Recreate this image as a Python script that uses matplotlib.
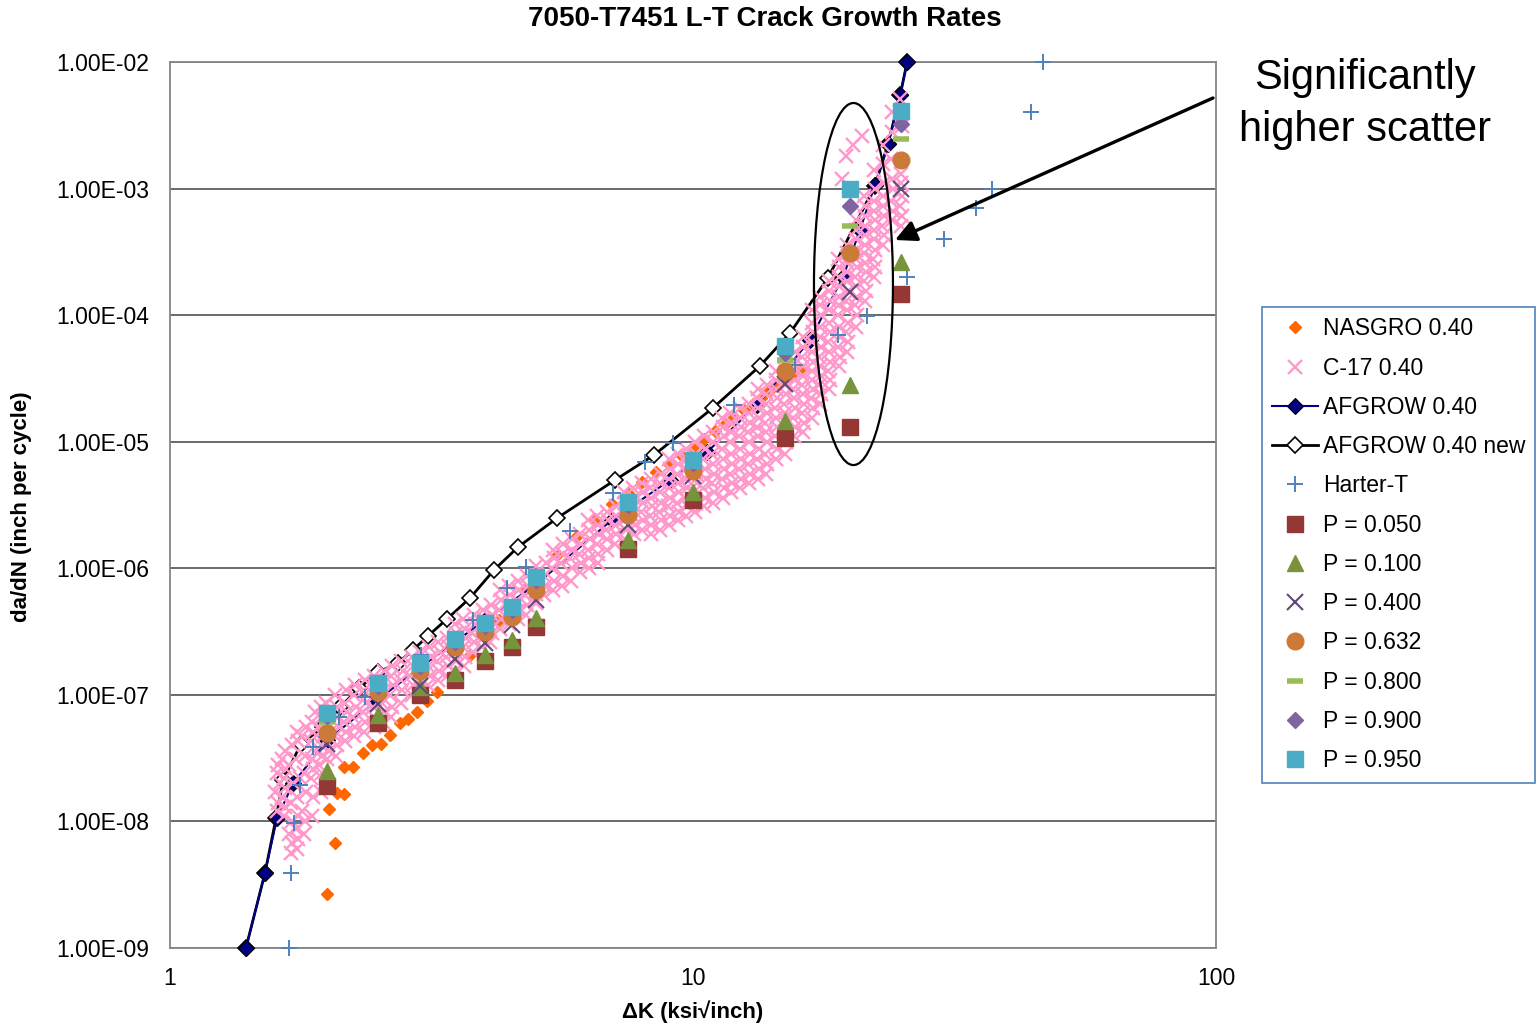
import numpy as np
import matplotlib
matplotlib.use("Agg")
import matplotlib.pyplot as plt
from matplotlib.patches import Ellipse
from matplotlib.ticker import FuncFormatter, FixedLocator, NullLocator

plt.rcParams['font.family'] = ['Liberation Sans', 'DejaVu Sans']

# NASGRO 0.40 (orange diamonds)
nas_dk = [2.0, 2.07, 2.01, 2.09, 2.15, 2.15, 2.24, 2.34, 2.43, 2.53, 2.63, 2.75, 2.85, 2.97,
          3.1, 3.24, 3.5, 3.75, 4.0, 4.25, 4.5, 4.75, 5.0, 5.5, 6.0, 6.5, 7.0, 7.5, 8.0, 8.5,
          9.0, 9.5, 10.0, 10.5, 11.0, 11.5, 12.0, 12.5, 13.0, 13.5, 14.0, 14.5, 15.0, 15.5, 16.0]
nas_dadn = [2.67e-9, 6.75e-9, 1.25e-8, 1.68e-8, 1.65e-8, 2.69e-8, 2.69e-8, 3.47e-8, 4.02e-8,
            4.09e-8, 4.82e-8, 6.0e-8, 6.45e-8, 7.32e-8, 8.94e-8, 1.05e-7, 1.49e-7, 2.06e-7,
            2.86e-7, 3.87e-7, 5.13e-7, 6.73e-7, 8.85e-7, 1.28e-6, 1.80e-6, 2.43e-6, 3.22e-6,
            3.96e-6, 4.80e-6, 5.74e-6, 6.67e-6, 7.81e-6, 9.08e-6, 1.05e-5, 1.22e-5, 1.38e-5,
            1.57e-5, 1.77e-5, 1.99e-5, 2.23e-5, 2.52e-5, 2.78e-5, 3.07e-5, 3.40e-5, 3.75e-5]

# C-17 0.40 test data (pink crosses), read column by column from the cloud
c17_dk = [
    1.60, 1.61, 1.59, 1.62, 1.60, 1.61,
    1.65, 1.66, 1.64, 1.66, 1.65, 1.67, 1.64, 1.66,
    1.70, 1.71, 1.69, 1.71, 1.70, 1.72, 1.69, 1.71,
    1.75, 1.76, 1.74, 1.76, 1.75, 1.77, 1.74, 1.76, 1.75,
    1.80, 1.81, 1.79, 1.82, 1.80, 1.81, 1.79, 1.82,
    1.87, 1.88, 1.86, 1.88, 1.87, 1.89, 1.86, 1.88, 1.87, 1.89,
    1.94, 1.95, 1.93, 1.95, 1.94, 1.96, 1.93, 1.95, 1.94,
    2.00, 2.01, 1.99, 2.02, 2.00, 2.01, 1.99,
    2.08, 2.09, 2.07, 2.10, 2.08, 2.09, 2.07,
    2.16, 2.17, 2.15, 2.18, 2.16, 2.17,
    2.25, 2.26, 2.24, 2.27, 2.25, 2.26,
    2.35, 2.36, 2.34, 2.37, 2.35, 2.36,
    2.45, 2.46, 2.44, 2.47, 2.45, 2.46,
    2.55, 2.56, 2.54, 2.57, 2.55, 2.56,
    2.65, 2.66, 2.64, 2.67, 2.65, 2.66,
    2.77, 2.78, 2.76, 2.79, 2.77,
    2.90, 2.91, 2.88, 2.92, 2.90,
    3.00, 3.02, 2.99, 3.03, 3.01,
    3.12, 3.14, 3.11, 3.15, 3.13,
    3.25, 3.27, 3.24, 3.28, 3.26,
    3.38, 3.40, 3.37, 3.41, 3.39,
    3.51, 3.53, 3.50, 3.54, 3.52, 3.50,
    3.65, 3.67, 3.64, 3.68, 3.66, 3.64,
    3.80, 3.82, 3.78, 3.83, 3.81,
    3.95, 3.97, 3.93, 3.98, 3.96,
    4.10, 4.12, 4.08, 4.13, 4.11,
    4.27, 4.29, 4.25, 4.30, 4.28,
    4.44, 4.46, 4.42, 4.47, 4.45,
    4.62, 4.64, 4.60, 4.65, 4.63,
    4.80, 4.82, 4.78, 4.83, 4.81,
    5.00, 5.02, 4.98, 5.03, 5.01,
    5.20, 5.22, 5.18, 5.23,
    5.40, 5.42, 5.38, 5.43, 5.41,
    5.62, 5.64, 5.60, 5.65, 5.63,
    5.85, 5.87, 5.83, 5.88, 5.86,
    6.08, 6.10, 6.06, 6.11, 6.09,
    6.32, 6.34, 6.30, 6.35, 6.33, 6.31,
    6.57, 6.59, 6.55, 6.60, 6.58, 6.56,
    6.84, 6.86, 6.82, 6.87, 6.85,
    7.10, 7.13, 7.08, 7.14, 7.11,
    7.40, 7.43, 7.38, 7.44, 7.41, 7.39,
    7.70, 7.73, 7.68, 7.74, 7.71, 7.69,
    8.00, 8.03, 7.97, 8.04, 8.01, 7.98,
    8.30, 8.33, 8.27, 8.34, 8.31, 8.28, 8.32,
    8.65, 8.68, 8.62, 8.69, 8.66, 8.63, 8.67,
    9.00, 9.04, 8.97, 9.05, 9.01, 8.98, 9.03, 9.00,
    9.35, 9.39, 9.32, 9.40, 9.36, 9.33, 9.38, 9.35,
    9.70, 9.74, 9.67, 9.75, 9.71, 9.68, 9.73, 9.70,
    10.1, 10.15, 10.05, 10.17, 10.12, 10.06, 10.14, 10.1,
    10.5, 10.55, 10.45, 10.57, 10.52, 10.46, 10.54, 10.5,
    10.9, 10.95, 10.85, 10.97, 10.92, 10.86, 10.94, 10.9,
    11.4, 11.45, 11.35, 11.47, 11.42, 11.36, 11.44, 11.4, 11.38,
    11.8, 11.85, 11.75, 11.87, 11.82, 11.76, 11.84, 11.8, 11.78,
    12.3, 12.36, 12.25, 12.38, 12.32, 12.26, 12.35, 12.3, 12.28,
    12.8, 12.86, 12.75, 12.88, 12.82, 12.76, 12.85, 12.8, 12.78,
    13.3, 13.36, 13.25, 13.38, 13.32, 13.26, 13.35, 13.3, 13.28, 13.34,
    13.8, 13.86, 13.75, 13.88, 13.82, 13.76, 13.85, 13.8, 13.78, 13.84,
    14.4, 14.46, 14.35, 14.48, 14.42, 14.36, 14.45, 14.4, 14.38, 14.44,
    15.0, 15.06, 14.95, 15.08, 15.02, 14.96, 15.05, 15.0, 14.98, 15.04, 15.01,
    15.6, 15.66, 15.55, 15.68, 15.62, 15.56, 15.65, 15.6, 15.58, 15.64,
    16.2, 16.27, 16.14, 16.29, 16.22, 16.15, 16.25, 16.2, 16.18, 16.24, 16.21,
    16.9, 16.97, 16.84, 16.99, 16.92, 16.85, 16.95, 16.9, 16.88, 16.94, 16.91, 16.87,
    17.5, 17.57, 17.44, 17.59, 17.52, 17.45, 17.55, 17.5, 17.48, 17.54, 17.51, 17.47,
    18.2, 18.27, 18.14, 18.29, 18.22, 18.15, 18.25, 18.2, 18.18, 18.24, 18.21, 18.17,
    19.0, 19.08, 18.93, 19.1, 19.02, 18.95, 19.05, 19.0, 18.98, 19.04, 19.01, 18.97,
    19.7, 19.78, 19.63, 19.8, 19.72, 19.65, 19.75, 19.7, 19.68, 19.74, 19.71, 19.67,
    20.5, 20.58, 20.43, 20.6, 20.52, 20.45, 20.55, 20.5, 20.48, 20.54, 20.51, 20.47,
    21.3, 21.38, 21.23, 21.4, 21.32, 21.25, 21.35, 21.3, 21.28, 21.34, 21.31, 21.27,
    22.2, 22.28, 22.13, 22.3, 22.22, 22.15, 22.25, 22.2, 22.18, 22.24, 22.21,
    23.1, 23.18, 23.03, 23.2, 23.12, 23.05, 23.15, 23.1, 23.08,
    24.0, 24.08, 23.93, 24.1, 24.02, 23.95, 24.05, 24.0,
    25.0, 25.08, 24.93, 25.1, 25.02, 24.95, 25.05, 24.9,
    19.6, 20.2, 21.0, 19.3,
]
c17_dadn = [
    1.2e-8, 1.4e-8, 1.7e-8, 2.0e-8, 2.4e-8, 2.8e-8,
    1.1e-8, 1.3e-8, 1.55e-8, 1.85e-8, 2.2e-8, 2.6e-8, 3.1e-8, 3.6e-8,
    5.6e-9, 6.7e-9, 8.0e-9, 1.0e-8, 1.4e-8, 2.0e-8, 2.8e-8, 4.0e-8,
    6.1e-9, 7.3e-9, 8.7e-9, 1.1e-8, 1.55e-8, 2.2e-8, 3.1e-8, 4.3e-8, 5.1e-8,
    8.0e-9, 1.0e-8, 1.2e-8, 1.7e-8, 2.4e-8, 3.3e-8, 4.7e-8, 5.6e-8,
    1.1e-8, 1.55e-8, 2.2e-8, 2.6e-8, 3.1e-8, 3.6e-8, 4.3e-8, 5.1e-8, 6.1e-8, 7.3e-8,
    1.7e-8, 2.4e-8, 2.8e-8, 3.3e-8, 4.0e-8, 4.7e-8, 5.6e-8, 6.7e-8, 8.0e-8,
    3.1e-8, 3.6e-8, 4.3e-8, 5.1e-8, 6.1e-8, 7.3e-8, 8.7e-8,
    3.3e-8, 4.0e-8, 4.7e-8, 5.6e-8, 6.7e-8, 8.0e-8, 1.0e-7,
    4.3e-8, 5.1e-8, 6.1e-8, 7.3e-8, 8.7e-8, 1.1e-7,
    4.7e-8, 5.6e-8, 6.7e-8, 8.0e-8, 1.0e-7, 1.2e-7,
    5.1e-8, 6.1e-8, 7.3e-8, 8.7e-8, 1.1e-7, 1.3e-7,
    5.6e-8, 6.7e-8, 8.0e-8, 1.0e-7, 1.2e-7, 1.4e-7,
    6.1e-8, 7.3e-8, 8.7e-8, 1.1e-7, 1.3e-7, 1.55e-7,
    6.7e-8, 8.0e-8, 1.0e-7, 1.2e-7, 1.4e-7, 1.7e-7,
    8.7e-8, 1.1e-7, 1.3e-7, 1.55e-7, 1.85e-7,
    1.0e-7, 1.2e-7, 1.4e-7, 1.7e-7, 2.0e-7,
    1.1e-7, 1.3e-7, 1.55e-7, 1.85e-7, 2.2e-7,
    1.2e-7, 1.4e-7, 1.7e-7, 2.0e-7, 2.4e-7,
    1.3e-7, 1.55e-7, 1.85e-7, 2.2e-7, 2.6e-7,
    1.4e-7, 1.7e-7, 2.0e-7, 2.4e-7, 2.8e-7,
    1.55e-7, 1.85e-7, 2.2e-7, 2.6e-7, 3.1e-7, 3.6e-7,
    1.7e-7, 2.0e-7, 2.4e-7, 2.8e-7, 3.3e-7, 4.0e-7,
    2.2e-7, 2.6e-7, 3.1e-7, 3.6e-7, 4.3e-7,
    2.4e-7, 2.8e-7, 3.3e-7, 4.0e-7, 4.7e-7,
    2.6e-7, 3.1e-7, 3.6e-7, 4.3e-7, 5.1e-7,
    3.3e-7, 4.0e-7, 4.7e-7, 5.6e-7, 6.7e-7,
    3.6e-7, 4.3e-7, 5.1e-7, 6.1e-7, 7.3e-7,
    4.0e-7, 4.7e-7, 5.6e-7, 6.7e-7, 8.0e-7,
    4.3e-7, 5.1e-7, 6.1e-7, 7.3e-7, 8.7e-7,
    5.3e-7, 6.3e-7, 7.5e-7, 8.9e-7, 1.05e-6,
    6.1e-7, 7.3e-7, 8.7e-7, 1.1e-6,
    6.7e-7, 8.0e-7, 1.0e-6, 1.2e-6, 1.4e-6,
    7.3e-7, 8.7e-7, 1.1e-6, 1.3e-6, 1.55e-6,
    8.0e-7, 1.0e-6, 1.2e-6, 1.4e-6, 1.7e-6,
    9.3e-7, 1.1e-6, 1.3e-6, 1.55e-6, 1.85e-6,
    1.0e-6, 1.2e-6, 1.4e-6, 1.7e-6, 2.0e-6, 2.4e-6,
    1.1e-6, 1.3e-6, 1.55e-6, 1.85e-6, 2.2e-6, 2.6e-6,
    1.4e-6, 1.7e-6, 2.0e-6, 2.4e-6, 2.8e-6,
    1.55e-6, 1.85e-6, 2.2e-6, 2.6e-6, 3.1e-6,
    1.7e-6, 2.0e-6, 2.4e-6, 2.8e-6, 3.3e-6, 4.0e-6,
    1.85e-6, 2.2e-6, 2.6e-6, 3.1e-6, 3.6e-6, 4.3e-6,
    2.0e-6, 2.4e-6, 2.8e-6, 3.3e-6, 4.0e-6, 4.7e-6,
    1.85e-6, 2.2e-6, 2.6e-6, 3.1e-6, 3.6e-6, 4.3e-6, 5.1e-6,
    2.0e-6, 2.4e-6, 2.8e-6, 3.3e-6, 4.0e-6, 4.7e-6, 5.6e-6,
    2.2e-6, 2.6e-6, 3.1e-6, 3.6e-6, 4.3e-6, 5.1e-6, 6.1e-6, 7.3e-6,
    2.4e-6, 2.8e-6, 3.3e-6, 4.0e-6, 4.7e-6, 5.6e-6, 6.7e-6, 8.0e-6,
    2.6e-6, 3.1e-6, 3.6e-6, 4.3e-6, 5.1e-6, 6.1e-6, 7.3e-6, 8.7e-6,
    2.8e-6, 3.3e-6, 4.0e-6, 4.7e-6, 5.6e-6, 6.7e-6, 8.0e-6, 1.0e-5,
    3.1e-6, 3.6e-6, 4.3e-6, 5.1e-6, 6.1e-6, 7.3e-6, 8.7e-6, 1.1e-5,
    3.3e-6, 4.0e-6, 4.7e-6, 5.6e-6, 6.7e-6, 8.0e-6, 1.0e-5, 1.2e-5,
    3.6e-6, 4.3e-6, 5.1e-6, 6.1e-6, 7.3e-6, 8.7e-6, 1.1e-5, 1.3e-5, 1.55e-5,
    4.0e-6, 4.7e-6, 5.6e-6, 6.7e-6, 8.0e-6, 1.0e-5, 1.2e-5, 1.4e-5, 1.7e-5,
    4.3e-6, 5.1e-6, 6.1e-6, 7.3e-6, 8.7e-6, 1.1e-5, 1.3e-5, 1.55e-5, 1.85e-5,
    4.7e-6, 5.6e-6, 6.7e-6, 8.0e-6, 1.0e-5, 1.2e-5, 1.4e-5, 1.7e-5, 2.0e-5,
    5.1e-6, 6.1e-6, 7.3e-6, 8.7e-6, 1.1e-5, 1.3e-5, 1.55e-5, 1.85e-5, 2.2e-5, 2.6e-5,
    5.6e-6, 6.7e-6, 8.0e-6, 1.0e-5, 1.2e-5, 1.4e-5, 1.7e-5, 2.0e-5, 2.4e-5, 2.8e-5,
    7.3e-6, 8.7e-6, 1.1e-5, 1.3e-5, 1.55e-5, 1.85e-5, 2.2e-5, 2.6e-5, 3.1e-5, 3.6e-5,
    8.0e-6, 1.0e-5, 1.2e-5, 1.4e-5, 1.7e-5, 2.0e-5, 2.4e-5, 2.8e-5, 3.3e-5, 4.0e-5, 4.7e-5,
    1.1e-5, 1.3e-5, 1.55e-5, 1.85e-5, 2.2e-5, 2.6e-5, 3.1e-5, 3.6e-5, 4.3e-5, 5.1e-5,
    1.2e-5, 1.4e-5, 1.7e-5, 2.0e-5, 2.4e-5, 2.8e-5, 3.3e-5, 4.0e-5, 4.7e-5, 5.6e-5, 6.7e-5,
    1.55e-5, 1.85e-5, 2.2e-5, 2.6e-5, 3.1e-5, 3.6e-5, 4.3e-5, 5.1e-5, 6.1e-5, 7.3e-5, 8.7e-5, 1.1e-4,
    2.0e-5, 2.4e-5, 2.8e-5, 3.3e-5, 4.0e-5, 4.7e-5, 5.6e-5, 6.7e-5, 8.0e-5, 1.0e-4, 1.2e-4, 1.4e-4,
    2.6e-5, 3.1e-5, 3.6e-5, 4.3e-5, 5.1e-5, 6.1e-5, 7.3e-5, 8.7e-5, 1.1e-4, 1.3e-4, 1.55e-4, 1.85e-4,
    4.0e-5, 4.7e-5, 5.6e-5, 6.7e-5, 8.0e-5, 1.0e-4, 1.2e-4, 1.4e-4, 1.7e-4, 2.0e-4, 2.4e-4, 2.8e-4,
    5.1e-5, 6.1e-5, 7.3e-5, 8.7e-5, 1.1e-4, 1.3e-4, 1.55e-4, 1.85e-4, 2.2e-4, 2.6e-4, 3.1e-4, 3.6e-4,
    8.0e-5, 1.0e-4, 1.2e-4, 1.4e-4, 1.7e-4, 2.0e-4, 2.4e-4, 2.8e-4, 3.3e-4, 4.0e-4, 4.7e-4, 5.6e-4,
    1.3e-4, 1.55e-4, 1.85e-4, 2.2e-4, 2.6e-4, 3.1e-4, 3.6e-4, 4.3e-4, 5.1e-4, 6.1e-4, 7.3e-4, 8.7e-4,
    2.0e-4, 2.4e-4, 2.8e-4, 3.3e-4, 4.0e-4, 4.7e-4, 5.6e-4, 6.7e-4, 8.0e-4, 1.0e-3, 1.4e-3,
    3.6e-4, 4.3e-4, 5.1e-4, 6.1e-4, 7.3e-4, 8.7e-4, 1.1e-3, 1.55e-3, 2.2e-3,
    5.6e-4, 6.7e-4, 8.0e-4, 1.0e-3, 1.2e-3, 1.7e-3, 2.8e-3, 4.0e-3,
    5.1e-4, 6.1e-4, 7.3e-4, 8.7e-4, 1.1e-3, 1.3e-3, 3.1e-3, 5.1e-3,
    1.8e-3, 2.2e-3, 2.6e-3, 1.2e-3,
]

# AFGROW 0.40 (navy line)
afg_dk = [1.397, 1.519, 1.602, 1.719, 2.0, 2.49, 3.0, 4.0, 5.0, 7.0, 9.04, 10.64, 13.26,
          16.74, 19.36, 20.86, 22.28, 23.6, 24.9, 25.67]
afg_dadn = [1.0e-9, 3.91e-9, 1.06e-8, 2.0e-8, 4.4e-8, 9.1e-8, 1.63e-7, 3.9e-7, 7.4e-7, 2.41e-6,
            4.98e-6, 8.3e-6, 1.95e-5, 6.37e-5, 2.0e-4, 4.71e-4, 1.07e-3, 2.25e-3, 5.5e-3, 1.0e-2]

# AFGROW 0.40 new (black line, open diamonds)
new_dk = [1.397, 1.519, 1.595, 1.645, 1.780, 1.961, 2.115, 2.298, 2.499, 2.729, 2.915, 3.113,
          3.385, 3.746, 4.164, 4.628, 5.495, 7.094, 8.423, 10.92, 13.43, 15.33, 18.12, 22.28,
          23.6, 24.9, 25.67]
new_dadn = [1.0e-9, 3.91e-9, 1.06e-8, 2.12e-8, 4.09e-8, 5.57e-8, 8.0e-8, 1.13e-7, 1.51e-7,
            1.79e-7, 2.26e-7, 2.92e-7, 3.97e-7, 5.82e-7, 9.69e-7, 1.47e-6, 2.49e-6, 4.98e-6,
            7.85e-6, 1.85e-5, 3.97e-5, 7.23e-5, 1.97e-4, 1.05e-3, 2.25e-3, 5.48e-3, 1.0e-2]

# Harter-T
har_dk = [1.69, 1.70, 1.73, 1.77, 1.88, 2.10, 2.36, 3.02, 3.80, 4.41, 4.79, 5.82, 7.03, 8.09,
          9.16, 12.0, 15.7, 18.9, 21.5, 25.6, 30.2, 34.8, 37.3, 44.3, 46.7]
har_dadn = [1.0e-9, 3.9e-9, 9.7e-9, 1.94e-8, 3.87e-8, 6.68e-8, 9.6e-8, 2.07e-7, 3.9e-7, 6.98e-7,
            1.02e-6, 1.97e-6, 3.93e-6, 6.92e-6, 9.77e-6, 1.95e-5, 4.04e-5, 6.97e-5, 9.85e-5,
            2.0e-4, 4.0e-4, 7.0e-4, 1.0e-3, 4.0e-3, 1.0e-2]

# probability curves
p_dk = [2, 2.5, 3, 3.5, 4, 4.5, 5, 7.5, 10, 15, 20, 25]
p050 = [1.90e-8, 6.0e-8, 1.0e-7, 1.31e-7, 1.85e-7, 2.39e-7, 3.44e-7, 1.42e-6, 3.46e-6, 1.07e-5, 1.31e-5, 1.47e-4]
p100 = [2.5e-8, 6.9e-8, 1.15e-7, 1.49e-7, 2.06e-7, 2.71e-7, 4.05e-7, 1.67e-6, 4.0e-6, 1.46e-5, 2.8e-5, 2.63e-4]
p400 = [4.1e-8, 8.5e-8, 1.17e-7, 1.92e-7, 2.57e-7, 3.56e-7, 5.61e-7, 2.2e-6, 5.36e-6, 2.86e-5, 1.52e-4, 9.9e-4]
p632 = [5.0e-8, 1.05e-7, 1.54e-7, 2.39e-7, 3.14e-7, 4.12e-7, 6.74e-7, 2.64e-6, 5.87e-6, 3.62e-5, 3.1e-4, 1.68e-3]
p800 = [6.1e-8, 1.11e-7, 1.61e-7, 2.48e-7, 3.32e-7, 4.43e-7, 7.65e-7, 3.0e-6, 6.43e-6, 4.42e-5, 5.06e-4, 2.46e-3]
p900 = [6.81e-8, 1.17e-7, 1.70e-7, 2.61e-7, 3.50e-7, 4.68e-7, 8.08e-7, 3.16e-6, 6.79e-6, 5.02e-5, 7.3e-4, 3.24e-3]
p950 = [7.19e-8, 1.24e-7, 1.79e-7, 2.76e-7, 3.70e-7, 4.94e-7, 8.53e-7, 3.34e-6, 7.17e-6, 5.71e-5, 9.92e-4, 4.10e-3]

fig = plt.figure(figsize=(15.37, 10.24), dpi=100)
ax = fig.add_axes([170/1537, 1-948/1024, (1216-170)/1537, (948-62)/1024])
ax.set_xscale('log')
ax.set_yscale('log')
ax.set_xlim(1, 100)
ax.set_ylim(1e-9, 1e-2)

ax.plot(nas_dk, nas_dadn, ls='none', marker='D', ms=6, color='#FF6600', zorder=2, label='NASGRO 0.40')
ax.plot(c17_dk, c17_dadn, ls='none', marker='x', ms=10.5, mew=1.7, color='#FF99CC', zorder=3.5, label='C-17 0.40')
ax.plot(afg_dk, afg_dadn, color='#000080', lw=1.5, marker='D', ms=8, mfc='#000080', mec='black',
        mew=0.8, zorder=3.3, clip_on=False, label='AFGROW 0.40')
ax.plot(new_dk, new_dadn, color='black', lw=2, marker='D', ms=8, mfc='white', mec='black',
        mew=1.2, zorder=3.2, clip_on=False, label='AFGROW 0.40 new')
ax.plot(har_dk, har_dadn, ls='none', marker='+', ms=11.5, mew=1.4, color='#4F81BD', zorder=4,
        clip_on=False, label='Harter-T')

ax.plot(p_dk, p050, ls='none', marker='s', ms=12, color='#953735', zorder=5, label='P = 0.050')
ax.plot(p_dk, p100, ls='none', marker='^', ms=12, color='#77933C', zorder=5, label='P = 0.100')
ax.plot(p_dk, p400, ls='none', marker='x', ms=12, mew=1.5, color='#604A7B', zorder=5, label='P = 0.400')
ax.plot(p_dk, p632, ls='none', marker='o', ms=12, color='#CC7A3A', zorder=5, label='P = 0.632')
ax.plot(p_dk, p800, ls='none', marker='_', ms=12, mew=4, color='#9BBB59', zorder=5, label='P = 0.800')
ax.plot(p_dk, p900, ls='none', marker='D', ms=8.5, color='#8064A2', zorder=5, label='P = 0.900')
ax.plot(p_dk, p950, ls='none', marker='s', ms=12, color='#4BACC6', zorder=5, label='P = 0.950')

# axes styling
ax.xaxis.set_major_locator(FixedLocator([1, 10, 100]))
ax.xaxis.set_minor_locator(NullLocator())
ax.xaxis.set_major_formatter(FuncFormatter(lambda v, p: f"{v:g}"))
ax.yaxis.set_major_locator(FixedLocator([1e-9, 1e-8, 1e-7, 1e-6, 1e-5, 1e-4, 1e-3, 1e-2]))
ax.yaxis.set_minor_locator(NullLocator())
ax.yaxis.set_major_formatter(FuncFormatter(lambda v, p: f"{v:.2E}"))
ax.tick_params(axis='y', length=0, pad=15, labelsize=16.5)
ax.tick_params(axis='x', length=0, pad=14, labelsize=16.5)
ax.grid(axis='y', color='#404040', lw=1.1)
ax.set_axisbelow(True)
for s in ax.spines.values():
    s.set_color('#868686')
    s.set_linewidth(1.3)

# highlight ellipse and arrow
ax.add_patch(Ellipse((0.6534, 0.7494), 0.0755, 0.4086, transform=ax.transAxes, fill=False,
                     ec='black', lw=1.6, zorder=6))
ax.annotate('', xy=(895, 1024-240), xycoords='figure pixels', xytext=(1213, 1024-98),
            textcoords='figure pixels', annotation_clip=False,
            arrowprops=dict(arrowstyle='-|>', lw=2.4, color='black', mutation_scale=32,
                            shrinkA=0, shrinkB=0), zorder=7)

fig.text(1365/1537, 1-104/1024, 'Significantly\nhigher scatter', ha='center', va='center',
         fontsize=30, linespacing=1.4)
fig.text(765/1537, 1-19/1024, '7050-T7451 L-T Crack Growth Rates', ha='center', va='center',
         fontsize=20, fontweight='bold')
fig.text(693/1537, 1-1012/1024, 'ΔK (ksi√inch)', ha='center', va='center',
         fontsize=16, fontweight='bold')
fig.text(22/1537, 1-507/1024, 'da/dN (inch per cycle)', ha='center', va='center',
         rotation=90, fontsize=16, fontweight='bold')

leg = ax.legend(loc='upper left', bbox_to_anchor=(1262/1537, 1-307/1024),
                bbox_transform=fig.transFigure, borderaxespad=0, fontsize=16.5,
                numpoints=1, handlelength=2.0, handletextpad=0.2, labelspacing=0.71,
                borderpad=0.45, fancybox=False, framealpha=1)
leg.get_frame().set_edgecolor('#4F81BD')
leg.get_frame().set_linewidth(1.2)

fig.savefig('out.png', dpi=100)
